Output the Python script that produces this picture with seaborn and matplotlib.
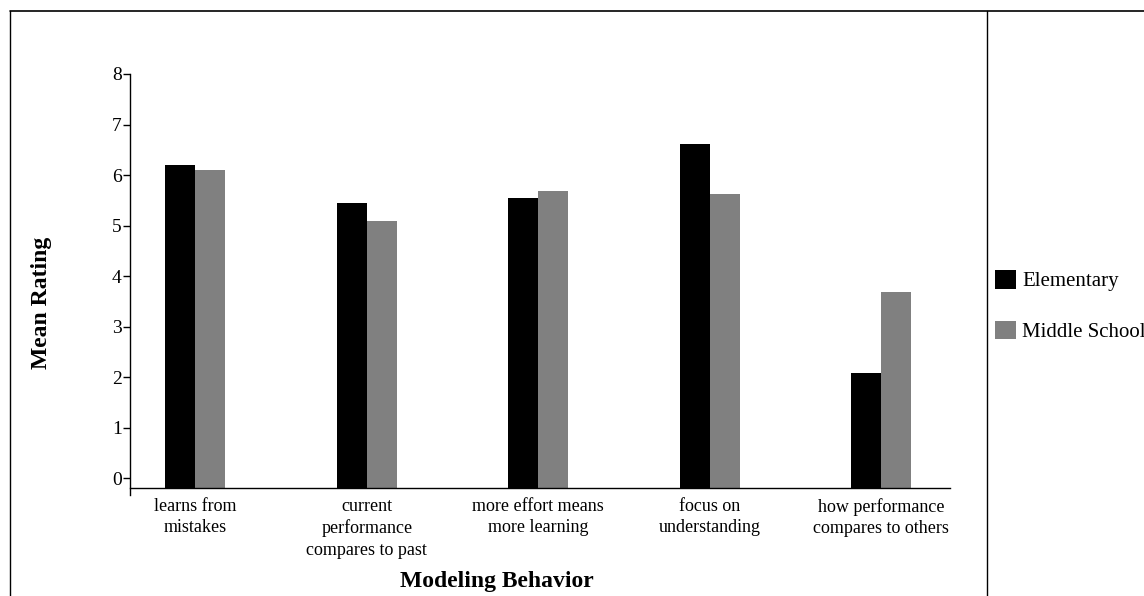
import pandas as pd
import matplotlib.pyplot as plt
import seaborn as sns
from matplotlib.lines import Line2D

sns.set_style("white")
plt.rcParams["font.family"] = ["Liberation Serif", "DejaVu Serif"]
plt.rcParams["text.color"] = "black"
plt.rcParams["axes.labelcolor"] = "black"
plt.rcParams["xtick.color"] = "black"
plt.rcParams["ytick.color"] = "black"

# Data
behaviors = [
    "learns from\nmistakes",
    "current\nperformance\ncompares to past",
    "more effort means\nmore learning",
    "focus on\nunderstanding",
    "how performance\ncompares to others",
]
elementary = [6.2, 5.45, 5.55, 6.62, 2.09]
middle_school = [6.1, 5.1, 5.69, 5.63, 3.69]
groups = ["Elementary", "Middle School"]
y_ticks = [0, 1, 2, 3, 4, 5, 6, 7, 8]

df = pd.DataFrame({
    "behavior": behaviors * 2,
    "rating": elementary + middle_school,
    "group": [groups[0]] * 5 + [groups[1]] * 5,
})

fig = plt.figure(figsize=(11.44, 5.96), dpi=100)
ax = fig.add_axes([130 / 1144, 1 - 488 / 596, 820 / 1144, 414 / 596])

sns.barplot(data=df, x="behavior", y="rating", hue="group",
            palette=["#000000", "#808080"], width=0.35, saturation=1,
            linewidth=0, ax=ax, legend=True)

y_bottom = -0.19
ax.set_xlim(-0.38, 4.4)
ax.set_ylim(y_bottom, 8)

# bars in the original run down to the axis line, which sits a bit under 0
for p in ax.patches:
    h = p.get_height()
    p.set_y(y_bottom)
    p.set_height(h - y_bottom)

ax.set_yticks(y_ticks)
ax.tick_params(axis="y", labelsize=14, length=5, width=1, direction="out", left=True, pad=1)
ax.tick_params(axis="x", labelsize=13, length=0, pad=7)
for lbl in ax.get_xticklabels():
    lbl.set_linespacing(1.35)

for side in ["top", "right"]:
    ax.spines[side].set_visible(False)
for side in ["left", "bottom"]:
    ax.spines[side].set_color("black")
    ax.spines[side].set_linewidth(1)
ax.spines["left"].set_bounds(-0.33, 8)

ax.set_xlabel("Modeling Behavior", fontsize=17, fontweight="bold")
ax.set_ylabel("Mean Rating", fontsize=17, fontweight="bold")
ax.xaxis.set_label_coords((497 - 130) / 820, -(571 - 488) / 414)
ax.yaxis.set_label_coords(-(130 - 52) / 820, (488 - 303) / 414)

ax.legend(loc="center left", bbox_to_anchor=(995 / 1144, 1 - 306 / 596),
          bbox_transform=fig.transFigure, frameon=False, fontsize=15,
          handlelength=1.0, handleheight=1.0, handletextpad=0.3,
          labelspacing=1.4, borderaxespad=0, borderpad=0)

# Outer frame lines
fig.add_artist(Line2D([10 / 1144, 1], [1 - 11 / 596] * 2, color="black", lw=1.2,
                      transform=fig.transFigure))
fig.add_artist(Line2D([10 / 1144] * 2, [0, 1 - 11 / 596], color="black", lw=1,
                      transform=fig.transFigure))
fig.add_artist(Line2D([987 / 1144] * 2, [0, 1 - 11 / 596], color="black", lw=1,
                      transform=fig.transFigure))

plt.savefig("out.png", dpi=100)
plt.close()
